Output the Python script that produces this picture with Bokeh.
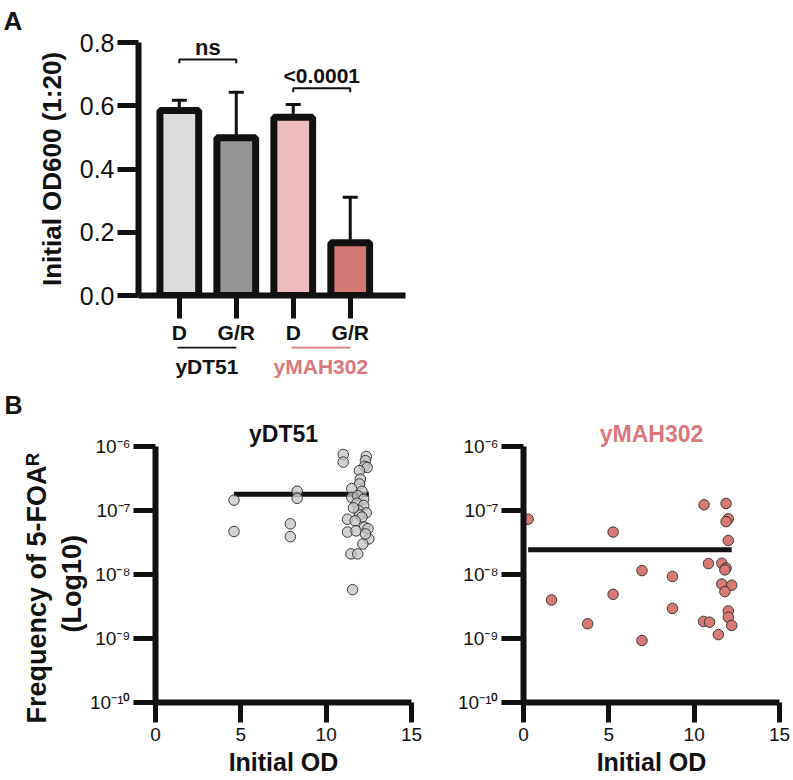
import numpy as np
from bokeh.plotting import figure
from bokeh.models import (Range1d, FixedTicker, NumeralTickFormatter, Label, Whisker,
                          TeeHead, ColumnDataSource, Title)
from bokeh.core.properties import value
from bokeh.layouts import column, row
from bokeh.embed import file_html
from bokeh.resources import INLINE

FONT = "Liberation Sans"
INK = "#111111"

# ---------------- Panel A data ----------------
categories = ["D", "G/R", "D", "G/R"]
strains = ["yDT51", "yDT51", "yMAH302", "yMAH302"]
bar_means = [0.585, 0.499, 0.564, 0.167]
bar_sd = [0.032, 0.144, 0.040, 0.144]
bar_colors = ["#dcdcdc", "#959595", "#ecbcbf", "#d47874"]
y_ticks_a = [0.0, 0.2, 0.4, 0.6, 0.8]
groups = ["yDT51", "yMAH302"]
group_colors = [INK, "#d9787a"]

comp_x0 = [1, 3]
comp_x1 = [2, 4]
comp_y = [0.746, 0.655]
comp_text = ["ns", "<0.0001"]

# ---------------- Panel B data ----------------
ydt51_od = [4.6, 4.6, 7.9, 7.9, 8.3, 8.3, 11.0, 11.0, 12.35, 12.3, 12.25, 12.4,
            11.95, 12.0, 11.95, 11.5, 12.1, 11.5, 11.85, 12.2, 11.8, 12.2, 11.9,
            12.35, 11.95, 11.25, 12.1, 11.7, 12.25, 11.25, 11.75, 12.45, 12.5,
            12.15, 11.45, 11.85, 11.55, 12.3, 11.6]
ydt51_freq = [1.45e-7, 4.7e-8, 6.2e-8, 3.9e-8, 2.0e-7, 1.55e-7, 7.5e-7, 5.7e-7,
              7.0e-7, 6.0e-7, 4.9e-7, 4.7e-7, 4.2e-7, 3.1e-7, 2.6e-7, 2.2e-7,
              2.0e-7, 1.6e-7, 1.7e-7, 1.5e-7, 1.3e-7, 1.2e-7, 1.0e-7, 9.2e-8,
              8.5e-8, 7.3e-8, 7.9e-8, 6.9e-8, 5.5e-8, 4.6e-8, 4.8e-8, 5.2e-8,
              3.6e-8, 3.0e-8, 2.1e-8, 2.1e-8, 5.8e-9, 4.3e-8, 1.1e-7]
ydt51_median = 1.8e-7

ymah302_od = [0.27, 1.64, 3.76, 5.25, 5.25, 6.94, 6.94, 8.73, 8.73, 10.58, 10.84,
              10.55, 10.9, 11.42, 11.87, 12.0, 11.87, 12.0, 11.62, 11.87, 11.8,
              11.62, 12.2, 11.8, 12.0, 12.0, 12.2]
ymah302_freq = [7.3e-8, 4.0e-9, 1.7e-9, 4.6e-8, 4.9e-9, 1.15e-8, 9.3e-10, 9.3e-9,
                2.95e-9, 1.23e-7, 1.48e-8, 1.85e-9, 1.8e-9, 1.15e-9, 1.29e-7,
                7.4e-8, 6.7e-8, 3.4e-8, 1.5e-8, 1.26e-8, 1.18e-8, 7.1e-9, 6.8e-9,
                5.4e-9, 2.7e-9, 2.15e-9, 1.6e-9]
ymah302_median = 2.43e-8

x_ticks_b = [0, 5, 10, 15]
y_exps_b = [-10, -9, -8, -7, -6]

SUP = str.maketrans("-0123456789", "\u207b\u2070\u00b9\u00b2\u00b3\u2074\u2075\u2076\u2077\u2078\u2079")


def clean(p):
    p.grid.grid_line_color = None
    p.outline_line_color = None
    p.background_fill_color = "white"
    p.border_fill_color = "white"
    if p.axis:
        p.axis.minor_tick_line_color = None
        p.axis.axis_line_color = INK
        p.axis.major_tick_line_color = INK
        p.axis.major_tick_in = 0
        p.axis.major_label_text_font = FONT
        p.axis.major_label_text_color = INK


# ---------------- Panel A ----------------
A_LEFT, A_RIGHT, A_W = 138, 10, 415
xr_a = (0.284, 4.97)
xs = list(range(1, len(categories) + 1))
pa = figure(width=A_W, height=346, x_range=Range1d(*xr_a), y_range=Range1d(0, 0.8),
            output_backend="svg", toolbar_location=None,
            min_border_left=A_LEFT, min_border_right=A_RIGHT, min_border_top=42,
            min_border_bottom=50)
clean(pa)

src = ColumnDataSource(dict(x=xs, top=bar_means,
                            upper=[m + s for m, s in zip(bar_means, bar_sd)],
                            color=bar_colors))
pa.add_layout(Whisker(base="x", lower="top", upper="upper", source=src,
                      line_width=3, line_color=INK,
                      upper_head=TeeHead(size=15, line_width=3, line_color=INK),
                      lower_head=None, level="underlay"))
pa.vbar(x="x", top="top", width=0.68, source=src, fill_color="color",
        line_color=INK, line_width=7)

drop = 0.012
pa.multi_line(xs=[[a, a, b, b] for a, b in zip(comp_x0, comp_x1)],
              ys=[[y - drop, y, y, y - drop] for y in comp_y],
              line_color=INK, line_width=2)
for a, b, y, t, off, sz in zip(comp_x0, comp_x1, comp_y, comp_text, [12, 13], [22, 21]):
    pa.add_layout(Label(x=(a + b) / 2, y=y, y_offset=off, text=t, text_font=FONT,
                        text_font_size=f"{sz}px", text_font_style="bold", text_color=INK,
                        text_align="center", text_baseline="middle"))

pa.yaxis.ticker = FixedTicker(ticks=y_ticks_a, minor_ticks=[])
pa.yaxis.formatter = NumeralTickFormatter(format="0.0")
pa.yaxis.major_label_text_font_size = "25px"
pa.yaxis.major_tick_out = 21
pa.yaxis.major_label_standoff = 3
pa.yaxis.axis_label = "Initial OD600 (1:20)"
pa.yaxis.axis_label_text_font = FONT
pa.yaxis.axis_label_text_font_style = "bold"
pa.yaxis.axis_label_text_font_size = "26px"
pa.yaxis.axis_label_text_color = INK
pa.yaxis.axis_label_standoff = 10

pa.xaxis.ticker = FixedTicker(ticks=xs, minor_ticks=[])
pa.xaxis.major_label_overrides = {x: c for x, c in zip(xs, categories)}
pa.xaxis.major_label_text_font_size = "21px"
pa.xaxis.major_label_text_font_style = "bold"
pa.xaxis.major_tick_out = 23
pa.xaxis.major_label_standoff = 2
pa.axis.axis_line_width = 6
pa.axis.major_tick_line_width = 5

pa.add_layout(Title(text="A", align="left", offset=-135, vertical_align="top", standoff=10,
                    text_font=FONT, text_font_size="26px", text_font_style="bold",
                    text_color=INK), "above")

# ---------------- strip below panel A: group labels + "B" ----------------
TOTAL_W = 791
px_per = (A_W - A_LEFT - A_RIGHT) / (xr_a[1] - xr_a[0])
s_start = xr_a[0] - A_LEFT / px_per
s_end = s_start + TOTAL_W / px_per
STRIP_H = 72
ps = figure(width=TOTAL_W, height=STRIP_H, x_range=Range1d(s_start, s_end),
            y_range=Range1d(STRIP_H, 0), x_axis_location=None, y_axis_location=None,
            output_backend="svg", toolbar_location=None,
            min_border_left=0, min_border_right=0, min_border_top=0, min_border_bottom=0)
clean(ps)
gx0, gx1, gxm = [], [], []
for g in groups:
    gx = [x for x, s in zip(xs, strains) if s == g]
    gx0.append(min(gx) - 0.03)
    gx1.append(max(gx))
    gxm.append((min(gx) - 0.03 + max(gx)) / 2)
ps.segment(x0=gx0, y0=[1] * len(groups), x1=gx1, y1=[1] * len(groups),
           line_color=group_colors, line_width=2)
ps.text(x=gxm, y=[19.6] * len(groups), text=groups, text_color=group_colors,
        text_font=value(FONT), text_font_size="21px", text_font_style="bold",
        text_align="center", text_baseline="middle")
ps.text(x=[s_start + 4 / px_per], y=[58], text=["B"], text_color=INK,
        text_font=value(FONT), text_font_size="25px", text_font_style="bold",
        text_align="left", text_baseline="middle")


# ---------------- Panel B ----------------
def panel_b(od, freq, median, title, title_color, fill, fill_alpha, width, lb, rb):
    p = figure(width=width, height=360, x_range=Range1d(0, 15), y_range=Range1d(1e-10, 1e-6),
               y_axis_type="log", output_backend="svg", toolbar_location=None,
               min_border_left=lb, min_border_right=rb, min_border_top=28,
               min_border_bottom=76, title=title)
    clean(p)
    p.title.align = "center"
    p.title.text_font = FONT
    p.title.text_font_size = "23px"
    p.title.text_font_style = "bold"
    p.title.text_color = title_color
    p.title.standoff = 0
    p.segment(x0=[min(od)], y0=[median], x1=[max(od)], y1=[median],
              line_color=INK, line_width=5)
    p.scatter(od, freq, size=10.5, fill_color=fill, fill_alpha=fill_alpha,
              line_color="#2a2a2a", line_width=1, line_alpha=0.9)
    p.axis.axis_line_width = 6
    p.axis.major_tick_line_width = 5
    p.xaxis.ticker = FixedTicker(ticks=x_ticks_b, minor_ticks=[])
    p.xaxis.major_tick_out = 20
    p.xaxis.major_label_text_font_size = "19px"
    p.xaxis.major_label_standoff = 5
    p.xaxis.axis_label = "Initial OD"
    p.xaxis.axis_label_text_font = FONT
    p.xaxis.axis_label_text_font_size = "25px"
    p.xaxis.axis_label_text_font_style = "bold"
    p.xaxis.axis_label_text_color = INK
    p.xaxis.axis_label_standoff = 4
    ticks = [10.0 ** e for e in y_exps_b]
    p.yaxis.ticker = FixedTicker(ticks=ticks, minor_ticks=[])
    p.yaxis.major_tick_out = 22
    p.yaxis.major_label_standoff = 3
    p.yaxis.major_label_text_font_size = "19px"
    p.yaxis.major_label_overrides = {t: "10" + str(e).translate(SUP)
                                     for e, t in zip(y_exps_b, ticks)}
    return p


pb1 = panel_b(ydt51_od, ydt51_freq, ydt51_median, "yDT51", INK, "#c4c4c4", 0.75,
              430, 155, 19)
pb2 = panel_b(ymah302_od, ymah302_freq, ymah302_median, "yMAH302", group_colors[1],
              "#d77a76", 1.0, TOTAL_W - 430, 93, 12)

pb1.add_layout(Title(text="(Log10)", align="left", offset=70, standoff=2,
                     text_font=FONT, text_font_size="27px", text_font_style="bold",
                     text_color=INK), "left")
pb1.add_layout(Title(text="Frequency of 5-FOA\u1d3f", align="left", offset=-21, standoff=4,
                     text_font=FONT, text_font_size="27px", text_font_style="bold",
                     text_color=INK), "left")

layout = column(pa, row(ps), row(pb1, pb2))
open("out.html", "w").write(file_html(layout, INLINE))
